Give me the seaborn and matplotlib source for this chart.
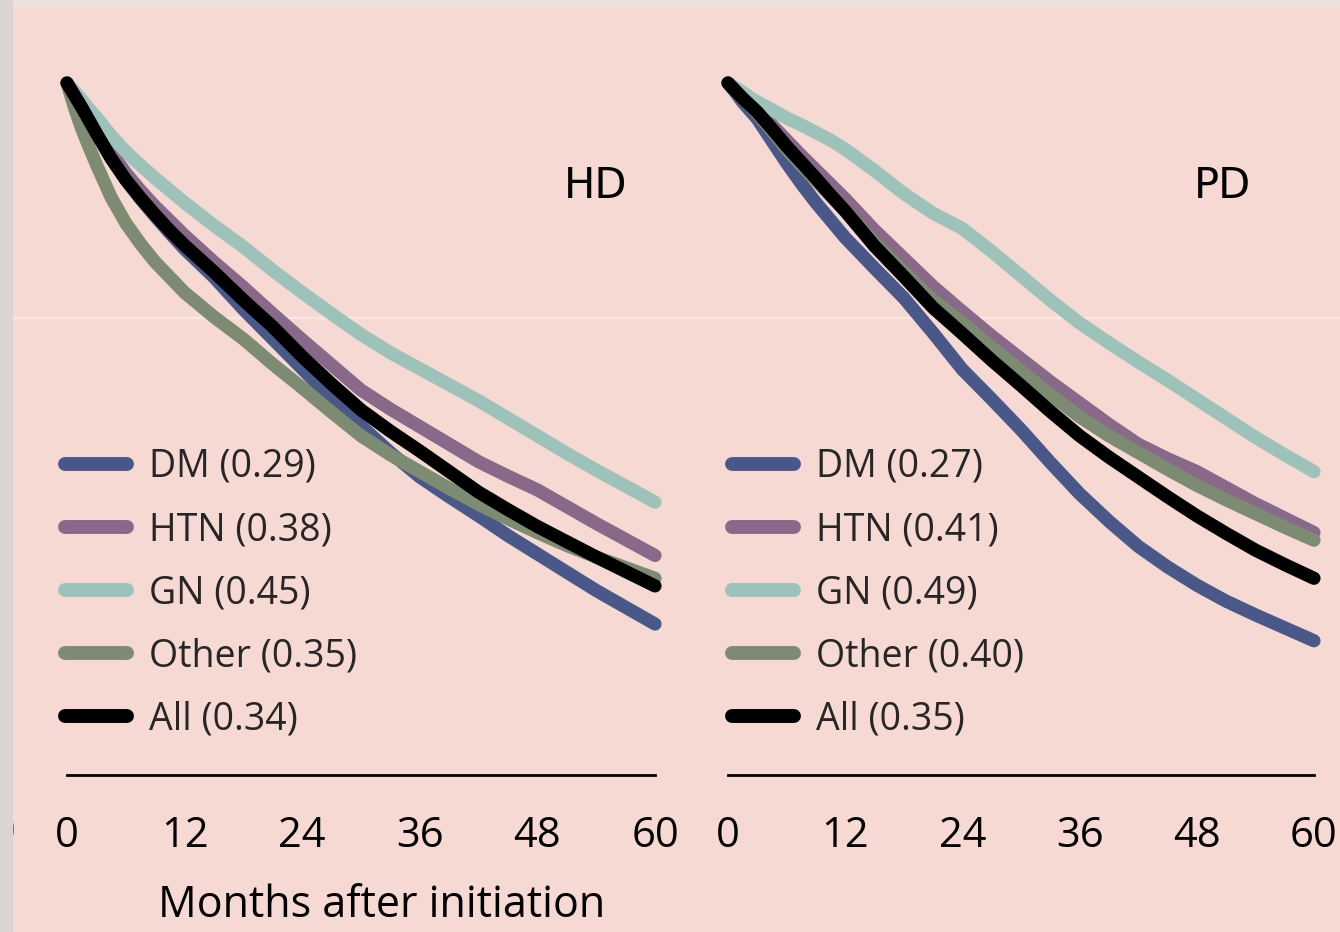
import numpy as np
import pandas as pd
import seaborn as sns
import matplotlib.pyplot as plt
from matplotlib.patches import Rectangle

# -----------------------------
# Data (survival)
# -----------------------------
months = [0, 0.75, 1.5, 2.25, 3, 4.5, 6, 7.5, 9, 10.5, 12, 15, 18, 21, 24,
          27, 30, 33, 36, 39, 42, 45, 48, 51, 54, 57, 60]

hd_labels = ["DM (0.29)", "HTN (0.38)", "GN (0.45)", "Other (0.35)", "All (0.34)"]
pd_labels = ["DM (0.27)", "HTN (0.41)", "GN (0.49)", "Other (0.40)", "All (0.35)"]

hd_dm = [1.0, 0.985, 0.970, 0.952, 0.935, 0.902, 0.873, 0.848, 0.825, 0.803, 0.782, 0.745, 0.703, 0.664,
         0.625, 0.586, 0.550, 0.515, 0.483, 0.457, 0.432, 0.406, 0.382, 0.358, 0.334, 0.312, 0.290]
hd_htn = [1.0, 0.986, 0.972, 0.956, 0.940, 0.909, 0.882, 0.859, 0.838, 0.819, 0.800, 0.765, 0.732, 0.697,
          0.663, 0.630, 0.597, 0.572, 0.549, 0.526, 0.503, 0.484, 0.466, 0.444, 0.422, 0.401, 0.380]
hd_gn = [1.0, 0.989, 0.978, 0.966, 0.955, 0.931, 0.910, 0.892, 0.875, 0.859, 0.843, 0.813, 0.785, 0.754,
         0.725, 0.697, 0.670, 0.646, 0.625, 0.604, 0.583, 0.560, 0.537, 0.514, 0.492, 0.471, 0.450]
hd_other = [1.0, 0.968, 0.940, 0.916, 0.893, 0.850, 0.816, 0.789, 0.765, 0.745, 0.725, 0.693, 0.664, 0.631,
            0.600, 0.568, 0.537, 0.512, 0.490, 0.468, 0.447, 0.428, 0.410, 0.393, 0.378, 0.364, 0.350]
hd_all = [1.0, 0.984, 0.968, 0.951, 0.934, 0.901, 0.873, 0.849, 0.827, 0.806, 0.787, 0.752, 0.715, 0.680,
          0.641, 0.605, 0.571, 0.543, 0.517, 0.490, 0.463, 0.440, 0.418, 0.398, 0.378, 0.359, 0.340]

pd_dm = [1.0, 0.988, 0.975, 0.964, 0.953, 0.924, 0.895, 0.868, 0.843, 0.820, 0.797, 0.757, 0.718, 0.672,
         0.624, 0.585, 0.545, 0.502, 0.461, 0.425, 0.392, 0.365, 0.341, 0.320, 0.302, 0.285, 0.268]
pd_htn = [1.0, 0.991, 0.982, 0.973, 0.965, 0.945, 0.925, 0.905, 0.886, 0.867, 0.848, 0.807, 0.770, 0.733,
          0.700, 0.668, 0.638, 0.608, 0.580, 0.552, 0.526, 0.507, 0.490, 0.469, 0.448, 0.429, 0.410]
pd_gn = [1.0, 0.994, 0.988, 0.981, 0.975, 0.965, 0.954, 0.945, 0.935, 0.925, 0.913, 0.885, 0.855, 0.829,
         0.809, 0.779, 0.747, 0.715, 0.685, 0.659, 0.634, 0.610, 0.585, 0.560, 0.535, 0.512, 0.490]
pd_other = [1.0, 0.990, 0.980, 0.970, 0.960, 0.937, 0.913, 0.892, 0.872, 0.852, 0.832, 0.790, 0.752, 0.715,
            0.685, 0.653, 0.622, 0.591, 0.562, 0.537, 0.515, 0.493, 0.472, 0.453, 0.435, 0.417, 0.400]
pd_all = [1.0, 0.990, 0.980, 0.971, 0.962, 0.940, 0.917, 0.896, 0.875, 0.853, 0.832, 0.786, 0.746, 0.705,
          0.671, 0.636, 0.603, 0.569, 0.537, 0.509, 0.483, 0.457, 0.432, 0.409, 0.387, 0.368, 0.350]

colors = ["#4a5889", "#88698a", "#9cc2ba", "#7d8b72", "#000000"]
x_ticks = [0, 12, 24, 36, 48, 60]


def long_df(labels, series):
    rows = []
    for lab, vals in zip(labels, series):
        for m, s in zip(months, vals):
            rows.append({"month": m, "surv": s, "group": lab})
    return pd.DataFrame(rows)


hd_df = long_df(hd_labels, [hd_dm, hd_htn, hd_gn, hd_other, hd_all])
pd_df = long_df(pd_labels, [pd_dm, pd_htn, pd_gn, pd_other, pd_all])

sns.set_theme(style="white")
plt.rcParams["font.family"] = ["Open Sans", "DejaVu Sans"]

W, H = 1340, 932
fig = plt.figure(figsize=(W / 100, H / 100), dpi=100)
fig.patch.set_facecolor("#eee0dd")

# pink slide panel
fig.patches.append(Rectangle((12 / W, 0), 1 - 12 / W, (H - 8) / H,
                             transform=fig.transFigure, color="#f6d9d3", zorder=-10))
# faint seam
fig.patches.append(Rectangle((12 / W, 1 - 318 / H), 1, 1.2 / H,
                             transform=fig.transFigure, color="#f9e7e3", zorder=-9))

s_top_px = 83
bottom_px, top_px = 775, 60
px_per_unit = 762
y_lo = 1 - (bottom_px - s_top_px) / px_per_unit
y_hi = 1 + (s_top_px - top_px) / px_per_unit

panels = [
    (hd_df, hd_labels, 67, 655, "HD", 596, 65),
    (pd_df, pd_labels, 728, 1314, "PD", 1223, 732),
]

for df, labels, x0, x1, tag, tag_x, leg_x in panels:
    ax = fig.add_axes([x0 / W, 1 - bottom_px / H, (x1 - x0) / W, (bottom_px - top_px) / H])
    ax.set_facecolor("none")
    sns.lineplot(data=df, x="month", y="surv", hue="group", hue_order=labels,
                 palette=colors, linewidth=9.5, ax=ax, clip_on=False)
    for ln in ax.lines:
        ln.set_solid_capstyle("round")
        ln.set_solid_joinstyle("round")
    ax.lines[-1].set_linewidth(10.5)

    ax.set_xlim(0, 60)
    ax.set_ylim(y_lo, y_hi)
    ax.set_xticks(x_ticks)
    ax.set_yticks([])
    ax.set_xlabel("")
    ax.set_ylabel("")
    for side in ["left", "top", "right"]:
        ax.spines[side].set_visible(False)
    ax.spines["bottom"].set_linewidth(2)
    ax.spines["bottom"].set_color("black")
    ax.tick_params(axis="x", length=0, pad=29, labelsize=30, colors="black")

    handles, _ = ax.get_legend_handles_labels()
    leg = ax.legend(handles, labels, loc="upper left",
                    bbox_to_anchor=(leg_x / W, 1 - 448 / H), bbox_transform=fig.transFigure,
                    frameon=False, fontsize=27, handlelength=1.65, handletextpad=0.6,
                    labelspacing=0.67, borderpad=0, borderaxespad=0)
    for h in leg.get_lines():
        h.set_linewidth(10)
        h.set_solid_capstyle("round")

    fig.text(tag_x / W, 1 - 186 / H, tag, ha="center", va="center",
             fontsize=30, family="DejaVu Sans", color="black")

fig.text(382 / W, 1 - 906 / H, "Months after initiation", ha="center", va="center",
         fontsize=31, color="black")

# clipped tick label from an off-slide panel, covered by the grey strip
fig.text(4 / W, 1 - 833 / H, "0", ha="center", va="center", fontsize=30, zorder=5)
fig.patches.append(Rectangle((0, 0), 12 / W, 1, transform=fig.transFigure,
                             color="#dcd4d3", zorder=6))

fig.savefig("out.png", dpi=100, facecolor=fig.get_facecolor())
